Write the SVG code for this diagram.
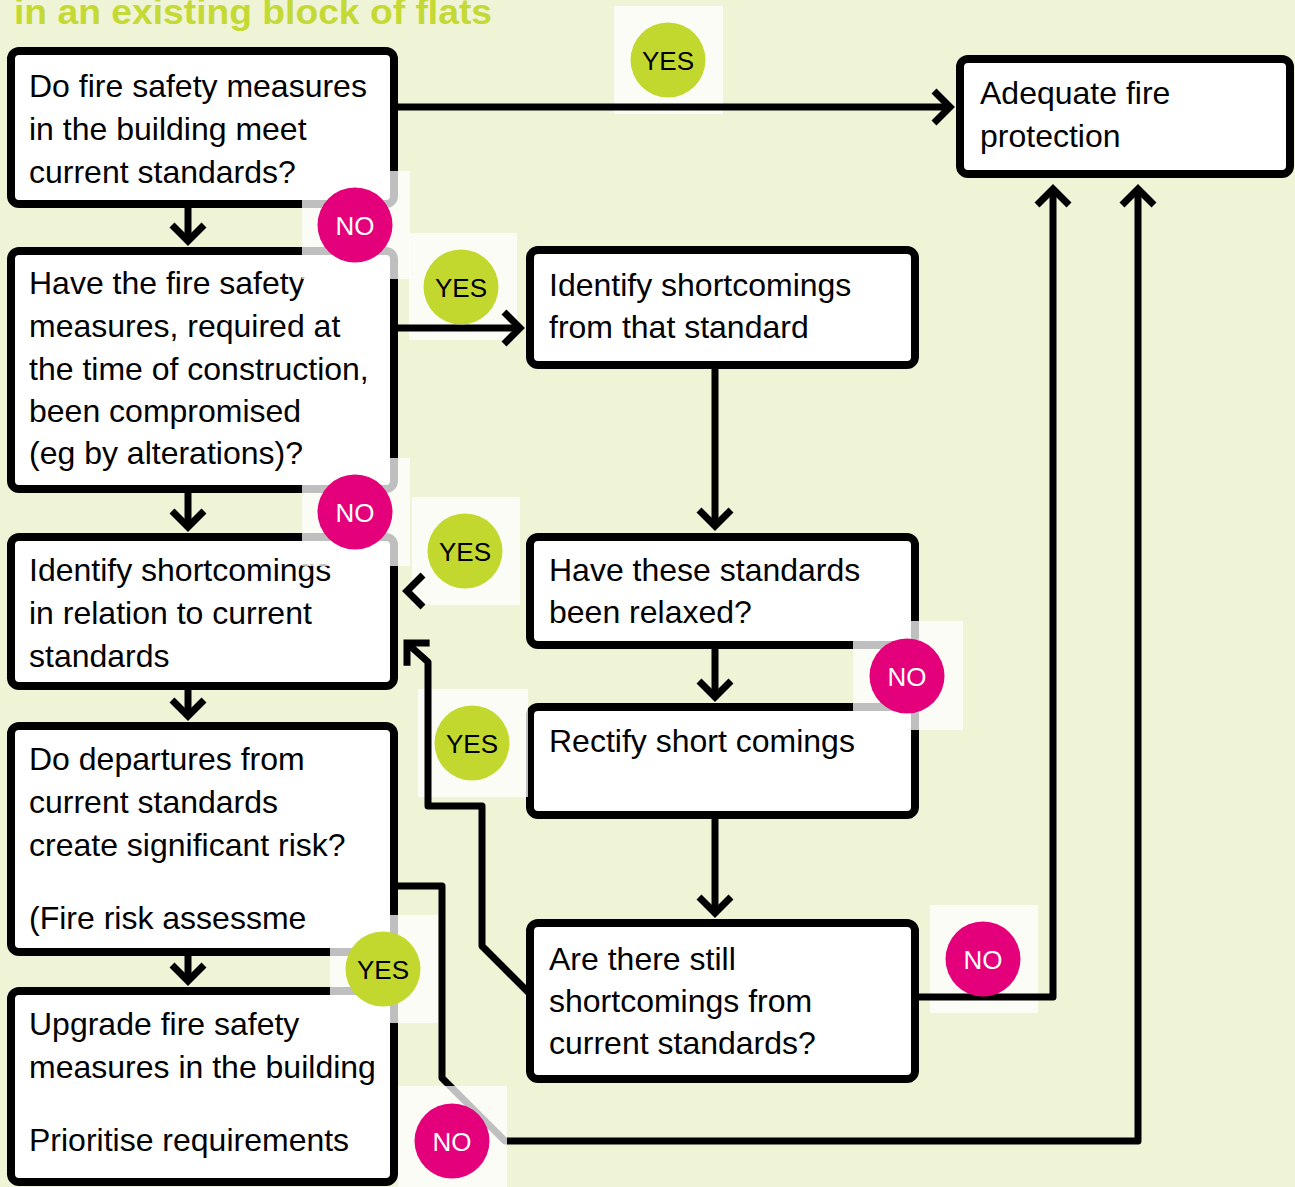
<svg xmlns="http://www.w3.org/2000/svg" xmlns:xlink="http://www.w3.org/1999/xlink" width="1295" height="1187" viewBox="0 0 1295 1187">
<style>
.bg{fill:#eff4d6}
.box{fill:#fff;stroke:#000;stroke-width:8}
.t{font-family:"Liberation Sans",Arial,sans-serif;font-size:32px;fill:#000}
.title{font-family:"Liberation Sans",Arial,sans-serif;font-size:35px;font-weight:bold;fill:#c5d935}
.con{fill:none;stroke:#000;stroke-width:7;stroke-linejoin:round}
.head{fill:none;stroke:#000;stroke-width:7;stroke-linejoin:miter;stroke-miterlimit:4}
.veil{fill:#fff;fill-opacity:0.75}
.yes{fill:#c3d82f}
.no{fill:#e3007a}
.bt{font-family:"Liberation Sans",Arial,sans-serif;font-size:26px;text-anchor:middle}
.byes{fill:#000}
.bno{fill:#fff}
</style>
<defs>
<path id="chev" d="M-16,-16 L0,0 L-16,16"/>
</defs>
<rect class="bg" x="0" y="0" width="1295" height="1187"/>
<text class="title" x="14" y="24" textLength="478" lengthAdjust="spacingAndGlyphs">in an existing block of flats</text>

<g id="n1"><rect class="box" x="11" y="51" width="383" height="153" rx="8"/>
<text class="t" x="29" y="97">Do fire safety measures</text>
<text class="t" x="29" y="140">in the building meet</text>
<text class="t" x="29" y="183">current standards?</text></g>

<g id="n2"><rect class="box" x="11" y="251" width="383" height="238" rx="8"/>
<text class="t" x="29" y="294">Have the fire safety</text>
<text class="t" x="29" y="337">measures, required at</text>
<text class="t" x="29" y="380">the time of construction,</text>
<text class="t" x="29" y="422">been compromised</text>
<text class="t" x="29" y="464">(eg by alterations)?</text></g>

<g id="n3"><rect class="box" x="11" y="537" width="383" height="149" rx="8"/>
<text class="t" x="29" y="581">Identify shortcomings</text>
<text class="t" x="29" y="624">in relation to current</text>
<text class="t" x="29" y="667">standards</text></g>

<g id="n4"><rect class="box" x="11" y="726" width="383" height="226" rx="8"/>
<text class="t" x="29" y="770">Do departures from</text>
<text class="t" x="29" y="813">current standards</text>
<text class="t" x="29" y="856">create significant risk?</text>
<text class="t" x="29" y="929">(Fire risk assessme</text></g>

<g id="n5"><rect class="box" x="11" y="991" width="383" height="191" rx="8"/>
<text class="t" x="29" y="1035">Upgrade fire safety</text>
<text class="t" x="29" y="1078">measures in the building</text>
<text class="t" x="29" y="1151">Prioritise requirements</text></g>

<g id="n6"><rect class="box" x="960" y="59" width="330" height="115" rx="8"/>
<text class="t" x="980" y="104">Adequate fire</text>
<text class="t" x="980" y="147">protection</text></g>

<g id="n7"><rect class="box" x="530" y="250" width="385" height="115" rx="8"/>
<text class="t" x="549" y="296">Identify shortcomings</text>
<text class="t" x="549" y="338">from that standard</text></g>

<g id="n8"><rect class="box" x="530" y="537" width="385" height="108" rx="8"/>
<text class="t" x="549" y="581">Have these standards</text>
<text class="t" x="549" y="623">been relaxed?</text></g>

<g id="n9"><rect class="box" x="530" y="707" width="385" height="108" rx="8"/>
<text class="t" x="549" y="752">Rectify short comings</text></g>

<g id="n10"><rect class="box" x="530" y="923" width="385" height="156" rx="8"/>
<text class="t" x="549" y="970">Are there still</text>
<text class="t" x="549" y="1012">shortcomings from</text>
<text class="t" x="549" y="1054">current standards?</text></g>

<g id="connectors-under">
<path class="con" d="M398,886 H442 V1078 L505,1141 H1138 V190"/>
</g>

<g id="veils">
<rect class="veil" x="614" y="6" width="109" height="108"/>
<rect class="veil" x="302" y="171" width="108" height="108"/>
<rect class="veil" x="409" y="233" width="108" height="107"/>
<rect class="veil" x="302" y="458" width="108" height="108"/>
<rect class="veil" x="412" y="497" width="108" height="108"/>
<rect class="veil" x="418" y="689" width="110" height="108"/>
<rect class="veil" x="853" y="621" width="110" height="109"/>
<rect class="veil" x="330" y="915" width="108" height="108"/>
<rect class="veil" x="930" y="905" width="108" height="108"/>
<rect class="veil" x="398" y="1086" width="109" height="101"/>
</g>

<g id="connectors">
<path class="con" d="M398,107 H950"/>
<path class="con" d="M188,208 V241"/>
<path class="con" d="M398,328 H520"/>
<path class="con" d="M715,369 V526"/>
<path class="con" d="M188,493 V527"/>
<path class="con" d="M188,690 V716"/>
<path class="con" d="M188,956 V981"/>
<path class="con" d="M715,649 V697"/>
<path class="con" d="M715,819 V913"/>
<path class="con" d="M529,993 L482,946 V806 H428 V662 L409,645"/>
<path class="con" d="M919,997 H1053 V190"/>
<use xlink:href="#chev" class="head" transform="translate(950,107)"/>
<use xlink:href="#chev" class="head" transform="translate(188,241) rotate(90)"/>
<use xlink:href="#chev" class="head" transform="translate(520,328)"/>
<use xlink:href="#chev" class="head" transform="translate(715,526) rotate(90)"/>
<use xlink:href="#chev" class="head" transform="translate(188,527) rotate(90)"/>
<use xlink:href="#chev" class="head" transform="translate(407,591) rotate(180)"/>
<use xlink:href="#chev" class="head" transform="translate(188,716) rotate(90)"/>
<use xlink:href="#chev" class="head" transform="translate(188,981) rotate(90)"/>
<use xlink:href="#chev" class="head" transform="translate(715,697) rotate(90)"/>
<use xlink:href="#chev" class="head" transform="translate(715,913) rotate(90)"/>
<use xlink:href="#chev" class="head" transform="translate(407,643) rotate(225)"/>
<use xlink:href="#chev" class="head" transform="translate(1053,189) rotate(-90)"/>
<use xlink:href="#chev" class="head" transform="translate(1138,189) rotate(-90)"/>
</g>

<g id="b1"><circle class="yes" cx="668" cy="60" r="37.5"/><text class="bt byes" x="668" y="69.5">YES</text></g>
<g id="b2"><circle class="no" cx="355" cy="225" r="37.5"/><text class="bt bno" x="355" y="234.5">NO</text></g>
<g id="b3"><circle class="yes" cx="461" cy="287" r="37.5"/><text class="bt byes" x="461" y="296.5">YES</text></g>
<g id="b4"><circle class="no" cx="355" cy="512" r="37.5"/><text class="bt bno" x="355" y="521.5">NO</text></g>
<g id="b5"><circle class="yes" cx="465" cy="551" r="37.5"/><text class="bt byes" x="465" y="560.5">YES</text></g>
<g id="b6"><circle class="yes" cx="472" cy="743" r="37.5"/><text class="bt byes" x="472" y="752.5">YES</text></g>
<g id="b7"><circle class="no" cx="907" cy="676" r="37.5"/><text class="bt bno" x="907" y="685.5">NO</text></g>
<g id="b8"><circle class="yes" cx="383" cy="969" r="37.5"/><text class="bt byes" x="383" y="978.5">YES</text></g>
<g id="b9"><circle class="no" cx="983" cy="959" r="37.5"/><text class="bt bno" x="983" y="968.5">NO</text></g>
<g id="b10"><circle class="no" cx="452" cy="1141" r="37.5"/><text class="bt bno" x="452" y="1150.5">NO</text></g>
</svg>
